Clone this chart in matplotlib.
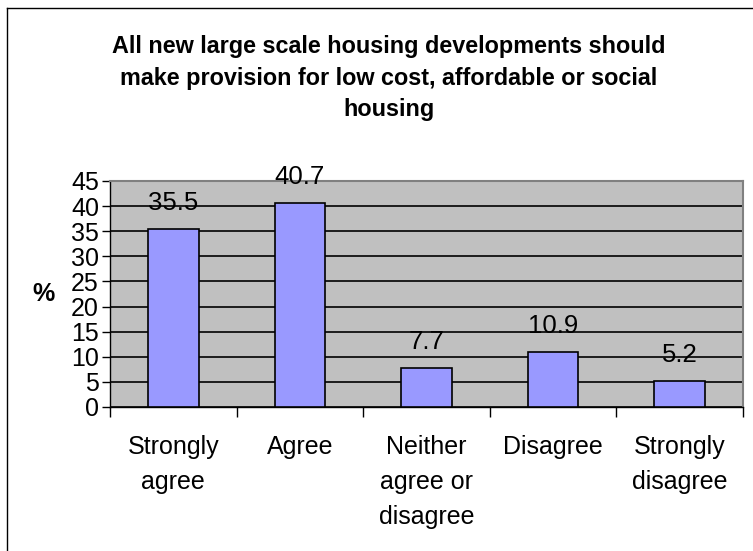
import matplotlib
matplotlib.use("Agg")
import matplotlib.pyplot as plt
from matplotlib.lines import Line2D

plt.rcParams['font.family'] = ['Liberation Sans', 'DejaVu Sans']

categories = ["Strongly\nagree", "Agree", "Neither\nagree or\ndisagree", "Disagree", "Strongly\ndisagree"]
values = [35.5, 40.7, 7.7, 10.9, 5.2]
yticks = [0, 5, 10, 15, 20, 25, 30, 35, 40, 45]
title = ("All new large scale housing developments should\n"
         "make provision for low cost, affordable or social\n"
         "housing")

W, H = 753, 551
fig = plt.figure(figsize=(W / 100, H / 100), dpi=100)
fig.patch.set_facecolor("white")

# chart area frame (left and top edges visible)
fig.add_artist(Line2D([7 / W, 7 / W], [0, 1 - 8 / H], color="black", lw=1))
fig.add_artist(Line2D([7 / W, 1], [1 - 8 / H, 1 - 8 / H], color="black", lw=1))

left, right, top, bottom = 110, 743, 181, 407
ax = fig.add_axes([left / W, 1 - bottom / H, (right - left) / W, (bottom - top) / H])
ax.set_facecolor("#C0C0C0")

x = range(len(values))
ax.bar(x, values, width=0.4, color="#9999FF", edgecolor="black", linewidth=1.2, zorder=3)
for xi, v in zip(x, values):
    ax.annotate(f"{v}", (xi, v), xytext=(0, 10), textcoords="offset points",
                ha="center", va="bottom", fontsize=18.5, zorder=4)

ax.set_xlim(-0.5, len(values) - 0.5)
ax.set_ylim(0, 45)
ax.set_yticks(yticks)
ax.yaxis.grid(True, color="black", lw=1.2, zorder=1)
ax.set_axisbelow(True)
ax.tick_params(axis="y", labelsize=18, length=6, width=1, pad=2, direction="out")

ax.set_xticks([i + 0.5 for i in range(-1, len(values))], minor=False)
ax.set_xticklabels([])
ax.tick_params(axis="x", length=7, width=1, direction="out")
ax.set_xticks(list(x), minor=True)
ax.set_xticklabels(categories, minor=True, fontsize=18, linespacing=1.58, va="top")
ax.tick_params(axis="x", which="minor", length=0, pad=20)

for s in ["top", "right"]:
    ax.spines[s].set_color("#808080")
    ax.spines[s].set_linewidth(1.5)
for s in ["left", "bottom"]:
    ax.spines[s].set_color("black")
    ax.spines[s].set_linewidth(1)

ax.set_ylabel("%", rotation=0, fontsize=18, fontweight="bold", labelpad=20, va="center")

fig.text(389 / W, 1 - 78 / H, title, ha="center", va="center", fontsize=16.8,
         fontweight="bold", linespacing=1.48)

fig.savefig("out.png", dpi=100)
